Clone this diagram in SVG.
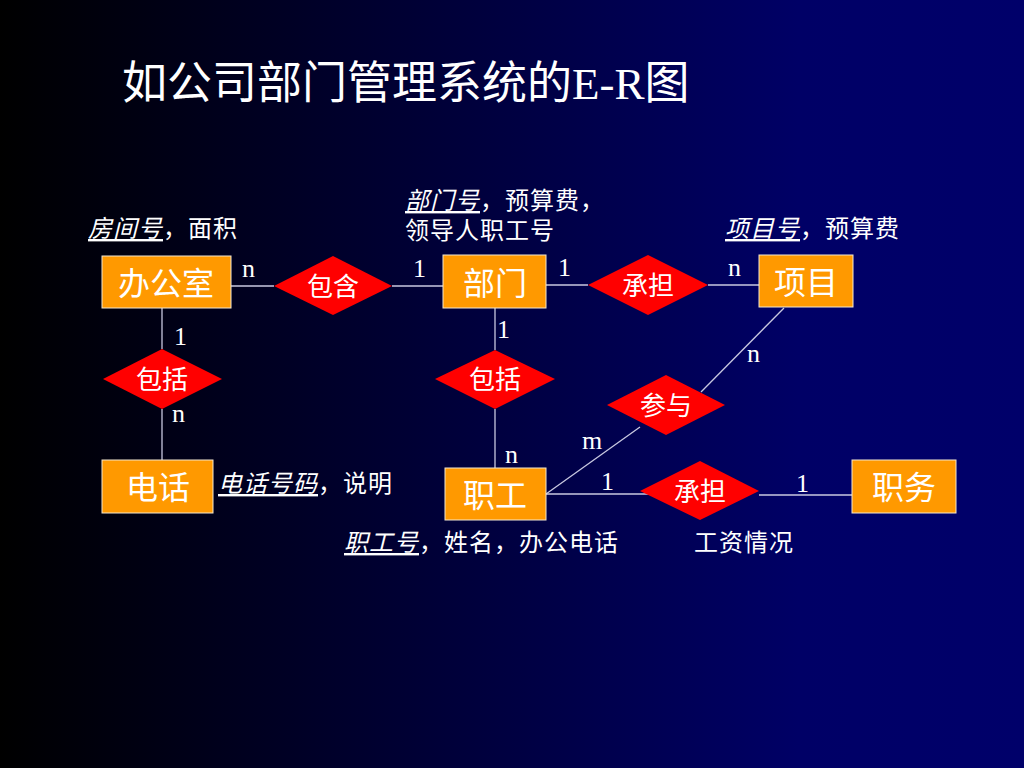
<svg xmlns="http://www.w3.org/2000/svg" width="1024" height="768" viewBox="0 0 1024 768">
<defs>
<linearGradient id="bg" x1="0" y1="0" x2="1" y2="0">
<stop offset="0" stop-color="#000000"/>
<stop offset="0.78" stop-color="#000066"/>
<stop offset="1" stop-color="#00006a"/>
</linearGradient>
<style>
.ent{fill:#ff9900;stroke:#f4e8d0;stroke-width:1}
.rel{fill:#ff0000;stroke:none}
.et{font-family:"Liberation Serif","Noto Sans CJK SC",serif;font-size:32px;fill:#ffffff;text-anchor:middle}
.rt{font-family:"Liberation Serif","Noto Sans CJK SC",serif;font-size:26px;fill:#ffffff;text-anchor:middle}
.at{font-family:"Liberation Serif","Noto Sans CJK SC",serif;font-size:24px;fill:#ffffff;letter-spacing:1px}
.key{font-style:italic;text-decoration:underline}
.card{font-family:"Liberation Serif","Noto Sans CJK SC",serif;font-size:26px;fill:#ffffff}
.ln{stroke:#c8c8e0;stroke-width:1.3;fill:none}
</style>
</defs>
<rect x="0" y="0" width="1024" height="768" fill="url(#bg)"/>
<text x="122" y="99" font-family="Liberation Serif,Noto Sans CJK SC,serif" font-size="45" fill="#ffffff">如公司部门管理系统的E-R图</text>

<g id="connectors">
<line class="ln" x1="231" y1="286" x2="274" y2="286"/>
<line class="ln" x1="392" y1="286" x2="443" y2="286"/>
<line class="ln" x1="546" y1="285" x2="588" y2="285"/>
<line class="ln" x1="708" y1="285" x2="759" y2="285"/>
<line class="ln" x1="162" y1="308" x2="162" y2="349"/>
<line class="ln" x1="162" y1="409" x2="162" y2="460"/>
<line class="ln" x1="495" y1="308" x2="495" y2="350"/>
<line class="ln" x1="495" y1="409" x2="495" y2="468"/>
<line class="ln" x1="784" y1="308" x2="701" y2="392"/>
<line class="ln" x1="640" y1="427" x2="546" y2="494"/>
<line class="ln" x1="546" y1="494" x2="657" y2="494"/>
<line class="ln" x1="759" y1="495" x2="852" y2="495"/>
</g>

<g id="bangongshi"><rect class="ent" x="102" y="256" width="129" height="52"/><text class="et" x="166" y="295">办公室</text></g>
<g id="bumen"><rect class="ent" x="443" y="255" width="103" height="53"/><text class="et" x="495" y="295">部门</text></g>
<g id="xiangmu"><rect class="ent" x="759" y="255" width="94" height="52"/><text class="et" x="806" y="294">项目</text></g>
<g id="dianhua"><rect class="ent" x="102" y="460" width="111" height="53"/><text class="et" x="158" y="499">电话</text></g>
<g id="zhigong"><rect class="ent" x="445" y="468" width="101" height="52"/><text class="et" x="495" y="507">职工</text></g>
<g id="zhiwu"><rect class="ent" x="852" y="460" width="104" height="53"/><text class="et" x="904" y="499">职务</text></g>

<g id="baohan"><polygon class="rel" points="274,286 333,256 392,286 333,315"/><text class="rt" x="333" y="296">包含</text></g>
<g id="chengdan1"><polygon class="rel" points="588,285 648,255 708,285 648,315"/><text class="rt" x="648" y="295">承担</text></g>
<g id="baokuo1"><polygon class="rel" points="103,379 162,349 222,379 162,409"/><text class="rt" x="162" y="389">包括</text></g>
<g id="baokuo2"><polygon class="rel" points="435,379 495,350 555,379 495,409"/><text class="rt" x="495" y="389">包括</text></g>
<g id="canyu"><polygon class="rel" points="607,405 666,375 725,405 666,435"/><text class="rt" x="666" y="415">参与</text></g>
<g id="chengdan2"><polygon class="rel" points="640,491 700,461 759,491 700,520"/><text class="rt" x="700" y="501">承担</text></g>

<g id="cardinalities">
<text class="card" x="242" y="277">n</text>
<text class="card" x="413" y="277">1</text>
<text class="card" x="558" y="276">1</text>
<text class="card" x="728" y="276">n</text>
<text class="card" x="174" y="345">1</text>
<text class="card" x="172" y="422">n</text>
<text class="card" x="497" y="338">1</text>
<text class="card" x="747" y="362">n</text>
<text class="card" x="582" y="449">m</text>
<text class="card" x="505" y="463">n</text>
<text class="card" x="601" y="490">1</text>
<text class="card" x="796" y="492">1</text>
</g>

<g id="attributes">
<text class="at" x="88" y="237"><tspan class="key">房间号</tspan>，面积</text>
<text class="at" x="405" y="209"><tspan class="key">部门号</tspan>，预算费，</text>
<text class="at" x="405" y="239">领导人职工号</text>
<text class="at" x="725" y="237"><tspan class="key">项目号</tspan>，预算费</text>
<text class="at" x="218" y="492"><tspan class="key">电话号码</tspan>，说明</text>
<text class="at" x="344" y="551"><tspan class="key">职工号</tspan>，姓名，办公电话</text>
<text class="at" x="694" y="551">工资情况</text>
</g>
</svg>
